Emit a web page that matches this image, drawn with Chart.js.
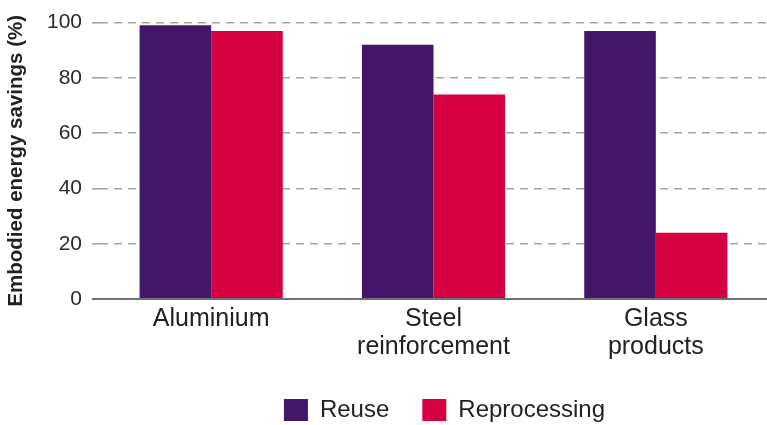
<!DOCTYPE html>
<html>
<head>
<meta charset="utf-8">
<script src="https://cdn.jsdelivr.net/npm/chart.js@4.4.0/dist/chart.umd.min.js"></script>
<style>
  html, body { margin: 0; padding: 0; background: #ffffff; }
  #wrap { width: 767px; height: 425px; }
</style>
</head>
<body>
<div id="wrap"><canvas id="c" width="767" height="425"></canvas></div>
<script>
const categories = [["Aluminium"], ["Steel", "reinforcement"], ["Glass", "products"]];
const seriesNames = ["Reuse", "Reprocessing"];
const reuseValues = [99, 92, 97];
const reprocessingValues = [97, 74, 24];
const yTicks = [0, 20, 40, 60, 80, 100];

const FONT = "'Liberation Sans', Arial, Helvetica, sans-serif";

const legendShift = {
  id: 'legendShift',
  afterLayout(chart) {
    const lg = chart.legend;
    if (!lg) return;
    const dx = 59, dy = -2;
    lg.left += dx; lg.right += dx;
    lg.top += dy; lg.bottom += dy;
  }
};

const isZero = (ctx) => ctx.tick && ctx.tick.value === 0;

new Chart(document.getElementById('c'), {
  type: 'bar',
  data: {
    labels: categories,
    datasets: [
      { label: seriesNames[0], data: reuseValues, backgroundColor: '#421668', borderWidth: 0 },
      { label: seriesNames[1], data: reprocessingValues, backgroundColor: '#d5003f', borderWidth: 0 }
    ]
  },
  options: {
    responsive: false,
    animation: false,
    layout: { padding: { top: 22, right: -4, left: 0, bottom: -9 } },
    datasets: { bar: { categoryPercentage: 0.644, barPercentage: 1.0 } },
    plugins: {
      tooltip: { enabled: false },
      legend: {
        position: 'bottom',
        align: 'center',
        labels: {
          boxWidth: 24,
          boxHeight: 22,
          padding: 33,
          color: '#222222',
          font: { family: FONT, size: 24 }
        }
      }
    },
    scales: {
      x: {
        grid: { display: false, drawTicks: false },
        border: { display: false },
        ticks: {
          color: '#222222',
          padding: 6,
          maxRotation: 0,
          font: { family: FONT, size: 25, lineHeight: 1.12 }
        }
      },
      y: {
        min: 0,
        max: 100,
        afterBuildTicks(scale) { scale.ticks = yTicks.map(v => ({ value: v })); },
        afterFit(scale) { scale.width = 100; },
        border: {
          display: false,
          dash: (ctx) => isZero(ctx) ? [] : [8, 6]
        },
        grid: {
          color: (ctx) => isZero(ctx) ? '#707070' : '#a3a3a3',
          lineWidth: (ctx) => isZero(ctx) ? 2 : 1.6,
          drawTicks: true,
          tickLength: 8,
          tickColor: (ctx) => isZero(ctx) ? '#707070' : '#a3a3a3',
          tickWidth: (ctx) => isZero(ctx) ? 2 : 1.6,
          tickBorderDash: (ctx) => isZero(ctx) ? [] : [8, 6]
        },
        ticks: {
          color: '#2a2a2a',
          padding: 10,
          font: { family: FONT, size: 21 }
        },
        title: {
          display: true,
          text: 'Embodied energy savings (%)',
          color: '#222222',
          padding: { top: 4, bottom: 0 },
          font: { family: FONT, size: 20.5, weight: 'bold' }
        }
      }
    }
  },
  plugins: [legendShift]
});
</script>
</body>
</html>
